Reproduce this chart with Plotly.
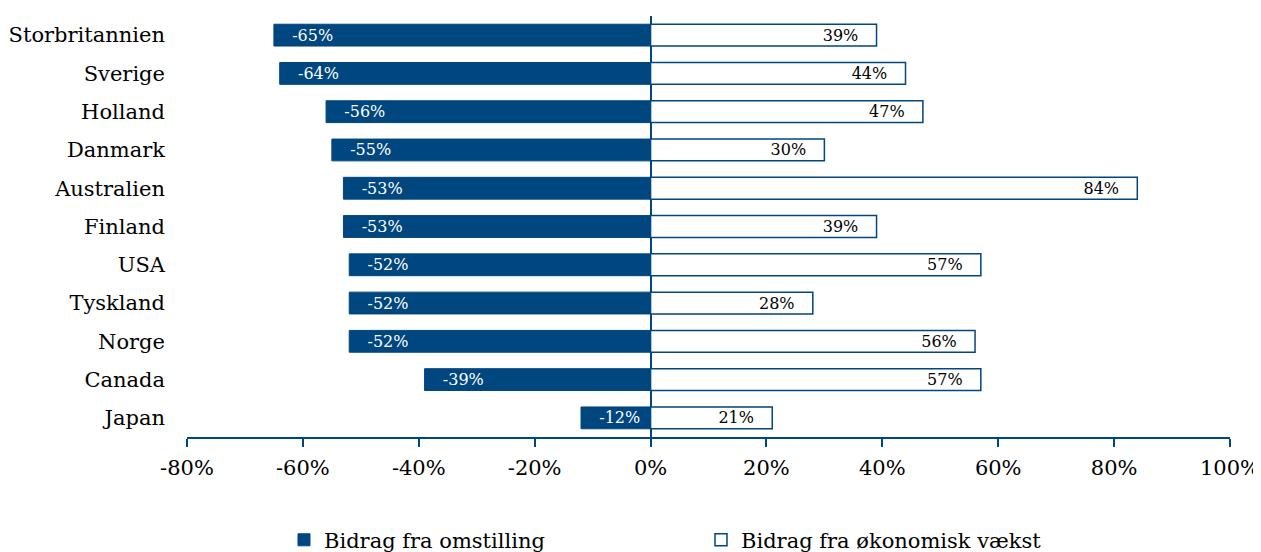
import plotly.graph_objects as go

countries = ["Storbritannien", "Sverige", "Holland", "Danmark", "Australien", "Finland",
             "USA", "Tyskland", "Norge", "Canada", "Japan"]
omstilling = [-65, -64, -56, -55, -53, -53, -52, -52, -52, -39, -12]
vaekst = [39, 44, 47, 30, 84, 39, 57, 28, 56, 57, 21]
tick_vals = [-80, -60, -40, -20, 0, 20, 40, 60, 80, 100]
tick_text = ["-80%", "-60%", "-40%", "-20%", "0%", "20%", "40%", "60%", "80%", "100%"]

BLUE = "#00467f"
FONT = "DejaVu Serif"
PAD = "\u00a0\u00a0\u00a0"

fig = go.Figure()
fig.add_trace(go.Bar(
    y=countries, x=omstilling, orientation="h", name="Bidrag fra omstilling",
    marker=dict(color=BLUE, line=dict(color=BLUE, width=1)),
    text=[f"{PAD}{v}%" for v in omstilling], textposition="inside", insidetextanchor="end",
    textfont=dict(color="white", size=16, family=FONT), textangle=0, constraintext="none",
))
fig.add_trace(go.Bar(
    y=countries, x=vaekst, orientation="h", name="Bidrag fra økonomisk vækst",
    marker=dict(color="white", line=dict(color=BLUE, width=1.5)),
    text=[f"{v}%{PAD}" for v in vaekst], textposition="inside", insidetextanchor="end",
    textfont=dict(color="black", size=16, family=FONT), textangle=0, constraintext="none",
))

fig.update_layout(
    width=1253, height=544,
    barmode="relative", bargap=0.43,
    plot_bgcolor="white", paper_bgcolor="white",
    margin=dict(l=179, r=31, t=8, b=115, autoexpand=False),
    font=dict(family=FONT, color="black"),
    showlegend=True,
    legend=dict(orientation="h", x=0.093, xanchor="left", y=-0.245, yanchor="middle",
                entrywidth=372, entrywidthmode="pixels",
                font=dict(size=21, family=FONT), traceorder="normal"),
    uniformtext=dict(mode=False),
)
fig.update_xaxes(
    range=[-80, 100], tickvals=tick_vals, ticktext=tick_text, automargin=False,
    showgrid=False, zeroline=True, zerolinecolor=BLUE, zerolinewidth=1.5,
    showline=True, linecolor=BLUE, linewidth=1.5,
    ticks="outside", ticklen=8, tickcolor=BLUE, tickwidth=1.5,
    tickfont=dict(size=21, family=FONT), ticklabelstandoff=3, fixedrange=True,
)
fig.update_yaxes(
    autorange="reversed", showgrid=False, showline=False, ticks="", automargin=False,
    tickfont=dict(size=21, family=FONT), ticklabelstandoff=21,
)

fig.write_html("out.html")
